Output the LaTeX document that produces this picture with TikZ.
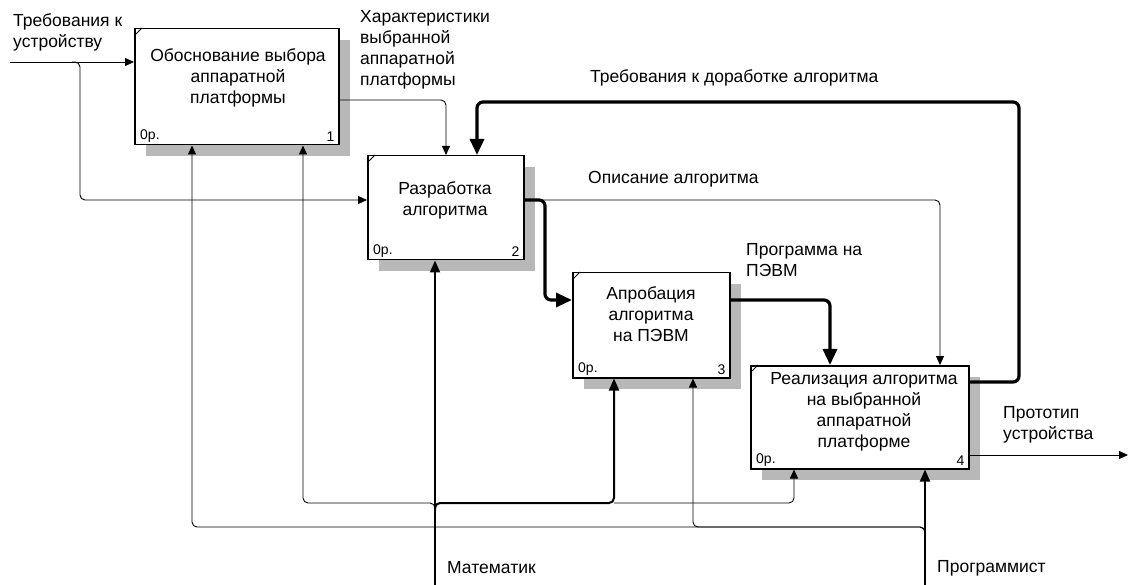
\documentclass[tikz,border=0pt]{standalone}
\usepackage{fontspec}
\setmainfont{Liberation Sans}
\usetikzlibrary{arrows.meta,shadows}
\begin{document}
\begin{tikzpicture}[x=1pt,y=-1pt,
  box/.style={draw, line width=1.5pt, fill=white, inner sep=0pt, anchor=north west,
    drop shadow={shadow xshift=11pt, shadow yshift=-11pt, fill=black!28, opacity=1}},
  btext/.style={anchor=north, align=center, inner sep=0pt, font=\fontsize{17.5}{21}\selectfont},
  ltext/.style={anchor=north west, align=left, inner sep=0pt, font=\fontsize{17.5}{21}\selectfont},
  wtext/.style={anchor=west, inner sep=0pt, font=\fontsize{17.5}{21}\selectfont},
  small/.style={inner sep=0pt, font=\fontsize{14}{16}\selectfont},
  thinA/.style={line width=0.9pt, rounded corners=5pt, -{Triangle[length=9pt,width=8pt]}},
  midA/.style={line width=2pt, rounded corners=5pt, -{Triangle[length=12pt,width=10pt]}},
  thickA/.style={line width=3.2pt, rounded corners=6pt, -{Triangle[length=16pt,width=14pt]}},
  tick/.style={line width=0.8pt}
]
\path[use as bounding box, fill=white] (0,0) rectangle (1138,585);

% boxes
\node[box, minimum width=204pt, minimum height=116pt] (b1) at (134,28) {};
\node[box, minimum width=156pt, minimum height=104pt] (b2) at (367,155) {};
\node[box, minimum width=157pt, minimum height=105pt] (b3) at (572,272) {};
\node[box, minimum width=218pt, minimum height=103pt] (b4) at (750,365) {};

\foreach \b/\n in {b1/1,b2/2,b3/3,b4/4}{
  \draw[tick] ([yshift=-8pt]\b.north west) -- ([xshift=8pt]\b.north west);
  \node[small, anchor=west] (\b o) at ([xshift=6pt,yshift=9pt]\b.south west) {0р.};
  \node[small, anchor=east] (\b n) at ([xshift=-5pt,yshift=9pt]\b.south east) {\n};
}

\node[btext] (t1) at (238,48) {Обоснование выбора\\аппаратной\\платформы};
\node[btext] (t2) at (445,181) {Разработка\\алгоритма};
\node[btext] (t3) at (651,286) {Апробация\\алгоритма\\на ПЭВМ};
\node[btext] (t4) at (864,372) {Реализация алгоритма\\на выбранной\\аппаратной\\платформе};

% labels
\node[ltext] (Lin) at (13,13) {Требования к\\устройству};
\node[ltext] (Lch) at (360,10) {Характеристики\\выбранной\\аппаратной\\платформы};
\node[wtext] (Lfb) at (590,78) {Требования к доработке алгоритма};
\node[wtext] (Lds) at (588,179) {Описание алгоритма};
\node[ltext] (Lpr) at (746,243) {Программа на\\ПЭВМ};
\node[ltext] (Lpt) at (1003,406) {Прототип\\устройства};
\node[wtext] (Lma) at (447,568) {Математик};
\node[wtext] (Lpg) at (937,568) {Программист};

% coordinates
\coordinate (inS) at (10,62);
\coordinate (inJ0) at (72,62);
\coordinate (inJ) at (80,62);
\coordinate (inB) at (80,200);
\coordinate (o1) at (446,100);
\coordinate (f1) at (1019,382);
\coordinate (f2) at (1019,102);
\coordinate (f3) at (477,102);
\coordinate (o2) at (940,200);
\coordinate (o2a) at (545,200);
\coordinate (o2b) at (545,300);
\coordinate (o3) at (830,300);
\coordinate (o4) at (1128,455);
\coordinate (mS) at (435,585);
\coordinate (mJ) at (435,503);
\coordinate (mJb) at (435,511);
\coordinate (m1) at (303,503);
\coordinate (m3) at (614,503);
\coordinate (m4) at (794,503);
\coordinate (pS) at (925,585);
\coordinate (pJ) at (925,527);
\coordinate (pJb) at (925,535);
\coordinate (p1) at (192,527);
\coordinate (p3) at (693,527);

% inputs
\draw[thinA] (inS) -- (b1.west |- inS);
\draw[thinA] (inJ0) -- (inJ) -- (inB) -- (b2.west |- inB);
% outputs
\draw[thinA] (b1.east |- o1) -- (o1) -- (b2.north -| o1);
\draw[thinA] (b2.east |- o2) -- (o2) -- (b4.north -| o2);
\draw[thickA] (b2.east |- o2a) -- (o2a) -- (o2b) -- (b3.west |- o2b);
\draw[thickA] (b3.east |- o3) -- (o3) -- (b4.north -| o3);
\draw[thickA] (b4.east |- f1) -- (f1) -- (f2) -- (f3) -- (b2.north -| f3);
\draw[thinA] (b4.east |- o4) -- (o4);
% mechanisms
\draw[thinA] (mJb) -- (mJ) -- (m1) -- (b1.south -| m1);
\draw[thinA] (m3) -- (m4) -- (b4.south -| m4);
\draw[midA] (mJb) -- (mJ) -- (m3) -- (b3.south -| m3);
\draw[thinA] (pJb) -- (pJ) -- (p1) -- (b1.south -| p1);
\draw[thinA] (pJb) -- (pJ) -- (p3) -- (b3.south -| p3);
\draw[midA] (mS) -- (b2.south -| mS);
\draw[midA] (pS) -- (b4.south -| pS);
\end{tikzpicture}
\end{document}
